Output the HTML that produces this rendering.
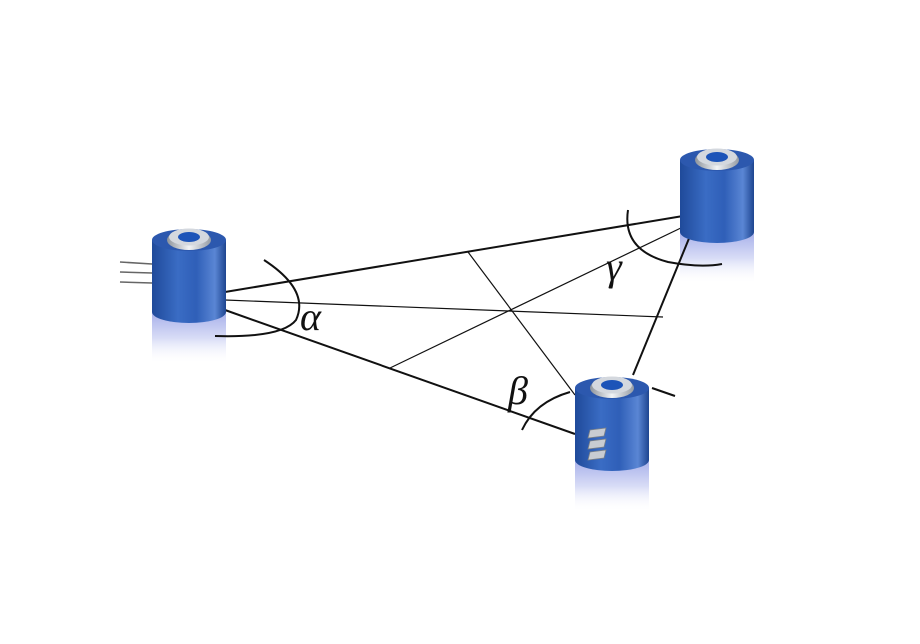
<!DOCTYPE html>
<html><head><meta charset="utf-8"><style>
html,body{margin:0;padding:0;background:#fff;}
svg{display:block}
</style></head><body>
<svg width="920" height="644" viewBox="0 0 920 644" xmlns="http://www.w3.org/2000/svg">
<defs>
<linearGradient id="body" x1="0" x2="1" y1="0" y2="0">
<stop offset="0" stop-color="#1f4a9a"/><stop offset="0.35" stop-color="#3a6cc4"/><stop offset="0.6" stop-color="#2f5fb8"/><stop offset="0.85" stop-color="#5a86d4"/><stop offset="1" stop-color="#1e4590"/>
</linearGradient>
<linearGradient id="refl" x1="0" x2="0" y1="0" y2="1">
<stop offset="0" stop-color="#a7b0ea"/><stop offset="0.5" stop-color="#d8dcf6"/><stop offset="1" stop-color="#ffffff" stop-opacity="0"/>
</linearGradient>
<linearGradient id="ring" x1="0" x2="1"><stop offset="0" stop-color="#8e949c"/><stop offset="0.5" stop-color="#f2f4f6"/><stop offset="1" stop-color="#969ca4"/></linearGradient>
<g id="refl1"><rect x="0" y="72" width="74" height="52" fill="url(#refl)"/></g>
<g id="cyl">
<rect x="0" y="0" width="74" height="72" fill="url(#body)"/>
<ellipse cx="37" cy="72" rx="37" ry="11" fill="url(#body)"/>
<ellipse cx="37" cy="0" rx="37" ry="11" fill="#2c58ae"/>
<ellipse cx="37" cy="0" rx="22" ry="10" fill="url(#ring)"/>
<ellipse cx="37" cy="-3" rx="20" ry="8.5" fill="#d4d8de"/>
<ellipse cx="37" cy="-3" rx="11" ry="5" fill="#1d54b8"/>
</g>
</defs>
<use href="#refl1" x="152" y="240"/>
<use href="#refl1" x="680" y="160"/>
<use href="#refl1" x="575" y="388"/>
<g stroke="#111" fill="none">
<line x1="225" y1="292" x2="683" y2="216" stroke-width="2"/>
<line x1="225" y1="310" x2="575" y2="434" stroke-width="2"/>
<line x1="690" y1="236" x2="633" y2="375" stroke-width="2"/>
<line x1="225" y1="300" x2="663" y2="317" stroke-width="1.2"/>
<line x1="685" y1="226" x2="390" y2="368" stroke-width="1.2"/>
<line x1="468" y1="252" x2="575" y2="395" stroke-width="1.2"/>
<path d="M264 260 Q310 290 296 320 Q282 338 215 336" stroke-width="2"/>
<path d="M628 210 Q622 250 668 262 Q700 268 722 264" stroke-width="2"/>
<path d="M522 430 Q535 402 570 392" stroke-width="2"/>
<line x1="652" y1="388" x2="675" y2="396" stroke-width="2"/>
<line x1="120" y1="262" x2="152" y2="264" stroke="#666" stroke-width="1.5"/>
<line x1="120" y1="272" x2="152" y2="273" stroke="#666" stroke-width="1.5"/>
<line x1="120" y1="282" x2="152" y2="283" stroke="#666" stroke-width="1.5"/>
</g>
<use href="#cyl" x="152" y="240"/>
<use href="#cyl" x="680" y="160"/>
<use href="#cyl" x="575" y="388"/>
<g fill="#c8ccd2" stroke="#7a8088" stroke-width="0.8">
<polygon points="590,430 606,428 604,436 588,438"/>
<polygon points="590,441 606,439 604,447 588,449"/>
<polygon points="590,452 606,450 604,458 588,460"/>
</g>
<g font-family="Liberation Serif, serif" font-style="italic" font-size="40" fill="#111">
<text x="300" y="330">α</text>
<text x="606" y="280">γ</text>
<text x="508" y="404">β</text>
</g>
</svg>
</body></html>
